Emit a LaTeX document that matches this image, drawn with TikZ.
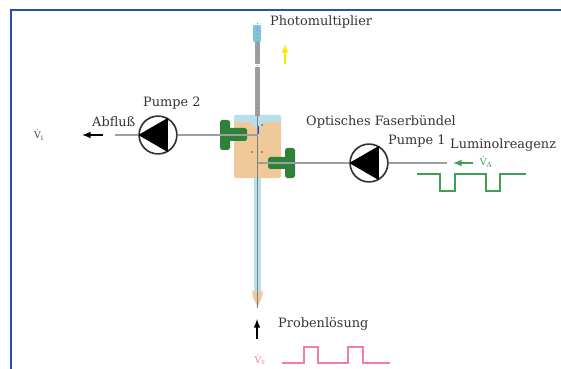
\documentclass[tikz,border=0pt]{standalone}
\usepackage{fontspec}
\setmainfont{DejaVu Serif}
\usetikzlibrary{positioning}
\definecolor{rahmen}{HTML}{2A4DAE}
\definecolor{block}{HTML}{EFC999}
\definecolor{hellblau}{HTML}{B8E0EC}
\definecolor{kopf}{HTML}{7FC4DA}
\definecolor{kanal}{HTML}{9A9FA3}
\definecolor{dicht}{HTML}{2F8038}
\definecolor{lumi}{HTML}{3FA055}
\definecolor{probe}{HTML}{F07FA0}
\tikzset{
  beschriftung/.style={font=\fontsize{11}{13}\selectfont, text=black!80, inner sep=0pt},
  pumpe/.style={circle, draw=black!80, line width=1.4, fill=white, minimum size=38*0.85pt, inner sep=0pt},
  leitung/.style={draw=kanal, line width=1.2},
  pfeil/.style={line width=1.5, -latex},
  symbol/.style={font=\fontsize{8}{9}\selectfont, inner sep=0pt},
}
\begin{document}
\begin{tikzpicture}[x=0.03cm, y=-0.03cm]
  \useasboundingbox (0,0) rectangle (561,369);

  % frame
  \draw[rahmen, line width=2] (561,10) -- (11,10) -- (11,369);

  % the cell
  \fill[block, rounded corners=2] (234,116) rectangle (281,178);
  \fill[hellblau, rounded corners=1] (234,115) rectangle (281,122);
  \fill[hellblau] (250,122) -- (265,122) -- (260,127) -- (255,127) -- cycle;
  \fill[hellblau] (254,178) rectangle (261,296);
  \fill[block] (252,290) -- (254,292) -- (261,292) -- (263,290) -- (262,297) -- (258,306) -- (257,306) -- (253,297) -- cycle;
  \fill[blue!65!cyan] (257,126) rectangle (259,134);
  \foreach \x/\y in {252/152, 262/152, 262/125}
  {
      \fill[black!60] (\x,\y) circle (1);
  }

  % tube, upper and lower part
  \fill[kopf, rounded corners=1] (253,25) rectangle (261,42);
  \draw[kanal, line width=4] (257.5,42) -- (257.5,64);
  \draw[kanal, line width=4] (257.5,67) -- (257.5,116);
  \draw[black!45, line width=1, dotted] (257.5,23) -- (257.5,116);
  \draw[black!50, line width=1.2] (257.5,116) -- (257.5,308);

  % connections and pumps
  \node[pumpe] (pumpe2) at (158,135) {};
  \node[pumpe] (pumpe1) at (369,163) {};
  \coordinate (zweiL) at (115,135);
  \coordinate (zweiR) at (257.5,135);
  \coordinate (einsL) at (257.5,163);
  \coordinate (einsR) at (447,163);
  \draw[leitung] (zweiL) -- (pumpe2);
  \draw[leitung] (pumpe2) -- (zweiR);
  \draw[leitung] (einsL) -- (pumpe1);
  \draw[leitung] (pumpe1) -- (einsR);
  \foreach \p in {pumpe1, pumpe2}
  {
      \fill[black] (\p.180) -- (\p.60) -- (\p.300) -- cycle;
  }

  % seals
  \fill[dicht, rounded corners=1.5] (220,120) rectangle (230,150);
  \fill[dicht, rounded corners=1.5] (225,128) rectangle (247,141);
  \fill[dicht, rounded corners=1.5] (285,148) rectangle (295,178);
  \fill[dicht, rounded corners=1.5] (268,157) rectangle (290,169);
  \draw[leitung] (220,135) -- (zweiR);
  \draw[leitung] (einsL) -- (295,163);

  % labels
  \node[beschriftung, anchor=west] (photo) at (270,22) {Photomultiplier};
  \node[beschriftung, anchor=west] (faser) at (306,122) {Optisches Faserbündel};
  \node[beschriftung, anchor=west] (p1) at (388,141) {Pumpe 1};
  \node[beschriftung, anchor=west] (lumi) at (450,145) {Luminolreagenz};
  \node[beschriftung, anchor=west] (p2) at (143,103) {Pumpe 2};
  \node[beschriftung, anchor=west] (ab) at (92,122) {Abfluß};
  \node[beschriftung, anchor=west] (pl) at (278,324) {Probenlösung};

  % flow arrows
  \coordinate (gelbA) at (285,64);
  \coordinate (gelbB) at (285,44);
  \draw[pfeil, yellow!90!orange] (gelbA) -- (gelbB);
  \coordinate (abA) at (103,135);
  \coordinate (abB) at (82,135);
  \draw[pfeil, black] (abA) -- (abB);
  \coordinate (luA) at (473,163);
  \coordinate (luB) at (453,163);
  \draw[pfeil, lumi] (luA) -- (luB);
  \coordinate (prA) at (257,339);
  \coordinate (prB) at (257,319);
  \draw[pfeil, black] (prA) -- (prB);

  \node[symbol, text=black!70] (vi) at (39,135) {V̇\textsubscript{i}};
  \node[symbol, text=lumi] (va) at (486,162) {V̇\textsubscript{A}};
  \node[symbol, text=probe] (vs) at (260,360) {V̇\textsubscript{s}};

  % pulses
  \draw[lumi, line width=1] (417,174) -- (440,174) -- (440,191) -- (455,191) -- (455,174)
    -- (486,174) -- (486,191) -- (500,191) -- (500,174) -- (526,174);
  \draw[probe, line width=1] (282,363) -- (304,363) -- (304,347) -- (318,347) -- (318,363)
    -- (348,363) -- (348,347) -- (363,347) -- (363,363) -- (390,363);
\end{tikzpicture}
\end{document}
